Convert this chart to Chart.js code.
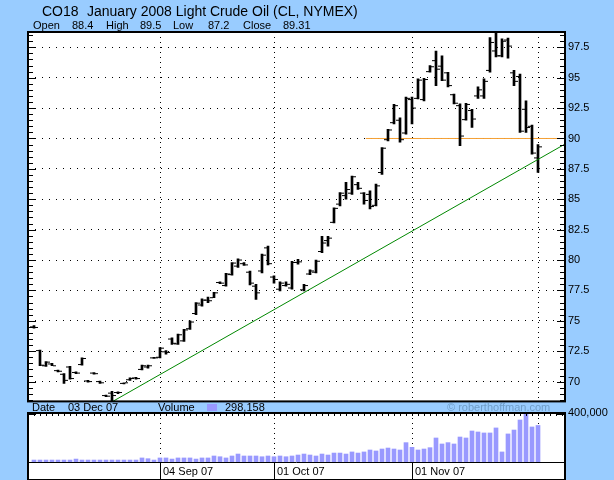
<!DOCTYPE html>
<html>
<head>
<meta charset="utf-8">
<script src="https://cdn.jsdelivr.net/npm/chart.js@4.4.1/dist/chart.umd.min.js"></script>
<style>
  body { margin: 0; background: #99ccff; font-family: "Liberation Sans", Arial, sans-serif; }
  #lienzo { position: relative; width: 614px; height: 480px; overflow: hidden; }
  #lienzo canvas { position: absolute; left: 0; }
  .t { position: absolute; white-space: nowrap; color: #000; font-size: 11px; line-height: 11px; z-index: 2; }
</style>
</head>
<body>
<div id="lienzo">
  <canvas id="precio-grafica" width="614" height="411" style="top:0"></canvas>
  <canvas id="volumen-grafica" width="614" height="80" style="top:400px"></canvas>

  <div class="t" style="left:42px;top:4px;font-size:14px;line-height:14px">CO18</div>
  <div class="t" style="left:87px;top:4px;font-size:14px;line-height:14px">January 2008 Light Crude Oil (CL, NYMEX)</div>

  <div class="t" style="left:33px;top:20px">Open</div>
  <div class="t" style="left:72px;top:20px">88.4</div>
  <div class="t" style="left:106px;top:20px">High</div>
  <div class="t" style="left:140px;top:20px">89.5</div>
  <div class="t" style="left:173px;top:20px">Low</div>
  <div class="t" style="left:208px;top:20px">87.2</div>
  <div class="t" style="left:243px;top:20px">Close</div>
  <div class="t" style="left:283px;top:20px">89.31</div>

  <div class="t" style="left:32px;top:402px">Date</div>
  <div class="t" style="left:68px;top:402px">03 Dec 07</div>
  <div class="t" style="left:158px;top:402px">Volume</div>
  <div class="t" style="left:207px;top:404px;width:10px;height:7px;background:#9999ff"></div>
  <div class="t" style="left:225px;top:402px">298,158</div>
  <div class="t" style="left:447px;top:402px;color:#6f9dc8">© roberthoffman.com</div>
</div>

<script>
(function(){

    // datos diarios, indice 1 = 03 Aug 07 ... 85 = 03 Dec 07
    const primerDia = 1;
    const apertura = [74.5, 72.55, 71.3, 71.45, 70.9, 70.6, 71.2, 70.75, 71.4, 70.05,
        70.7, 70.0, 68.85, 69.05, 69.1, 69.85, 70.15, 70.3, 71.0, 71.2,
        71.95, 72.0, 72.45, 73.5, 73.1, 73.35, 74.35, 75.6, 76.3, 76.7,
        76.9, 78.15, 77.9, 78.8, 79.5, 79.7, 79.0, 77.85, 79.1, 81.0,
        78.6, 77.6, 77.9, 77.7, 79.8, 77.55, 78.85, 79.0, 80.7, 81.6,
        83.1, 84.6, 85.3, 85.5, 86.2, 85.5, 85.4, 84.5, 87.2, 89.9,
        91.3, 91.5, 90.45, 93.2, 93.3, 93.2, 95.5, 96.4, 95.95, 95.4,
        93.6, 92.7, 91.55, 92.3, 93.5, 93.5, 95.6, 97.2, 96.8, 98.1,
        95.4, 95.1, 92.4, 91.0, 88.4];
    const maximo = [74.6, 72.6, 71.65, 71.5, 70.95, 70.65, 71.25, 70.8, 71.95, 70.1,
        70.75, 70.05, 68.9, 69.2, 69.15, 69.9, 70.3, 70.35, 71.35, 71.35,
        72.0, 72.8, 72.55, 73.6, 73.9, 74.3, 75.0, 76.5, 76.8, 76.95,
        77.35, 78.2, 78.9, 79.8, 80.1, 79.8, 79.1, 78.0, 80.5, 81.15,
        78.7, 78.2, 78.2, 79.9, 80.05, 78.0, 79.2, 80.0, 81.95, 81.95,
        84.3, 85.55, 86.4, 86.9, 86.4, 85.55, 85.7, 86.25, 89.25, 90.75,
        92.8, 91.7, 93.4, 93.4, 94.9, 94.95, 96.0, 97.2, 96.8, 95.45,
        93.65, 92.85, 92.9, 92.4, 94.25, 94.9, 98.3, 98.9, 98.2, 98.25,
        95.6, 95.3, 93.1, 91.1, 89.5];
    const minimo = [74.4, 71.3, 71.25, 71.3, 70.8, 69.85, 70.2, 70.65, 71.35, 69.95,
        70.6, 69.85, 68.75, 68.4, 69.0, 69.8, 70.1, 70.2, 70.95, 71.1,
        71.9, 71.95, 72.25, 73.05, 73.05, 73.3, 74.3, 75.5, 76.2, 76.5,
        76.9, 78.05, 77.85, 78.75, 79.4, 79.55, 77.95, 76.75, 78.95, 79.6,
        78.1, 77.45, 77.85, 77.6, 79.65, 77.45, 78.8, 78.95, 80.6, 81.15,
        83.05, 84.45, 85.0, 85.4, 85.8, 84.6, 84.2, 84.45, 87.05, 89.8,
        91.2, 89.7, 90.35, 91.2, 93.25, 93.1, 95.45, 94.35, 94.75, 94.25,
        92.85, 89.4, 91.5, 90.9, 93.3, 93.3, 95.45, 96.7, 96.7, 96.6,
        94.35, 90.5, 90.5, 88.7, 87.2];
    const cierre = [74.45, 71.35, 71.6, 71.3, 70.85, 70.1, 70.25, 70.7, 71.9, 70.0,
        70.65, 69.9, 68.8, 68.85, 69.1, 69.9, 70.25, 70.25, 71.3, 71.3,
        71.95, 72.75, 72.4, 73.15, 73.85, 74.25, 74.9, 76.45, 76.7, 76.65,
        77.3, 78.1, 78.85, 79.75, 80.0, 79.6, 78.1, 77.3, 80.4, 79.7,
        78.4, 78.1, 78.0, 79.8, 79.85, 77.9, 79.1, 79.9, 81.4, 81.8,
        84.25, 85.5, 85.8, 86.85, 85.9, 84.9, 84.4, 86.1, 89.2, 90.7,
        92.7, 89.9, 93.3, 92.5, 94.8, 94.85, 95.9, 95.7, 94.8, 94.35,
        92.9, 90.2, 92.8, 91.6, 94.0, 94.7, 97.9, 96.8, 98.0, 97.6,
        94.7, 90.6, 90.9, 88.8, 89.31];
    const volumen = [16000, 16000, 16000, 16000, 16000, 16000, 16000, 24000, 16000, 16000,
        16000, 16000, 16000, 16000, 16000, 16000, 16000, 16000, 33000, 27000,
        16000, 33000, 33000, 24000, 33000, 33000, 33000, 24000, 33000, 33000,
        49000, 43000, 33000, 49000, 65000, 49000, 49000, 49000, 43000, 49000,
        43000, 49000, 43000, 49000, 57000, 65000, 57000, 49000, 65000, 57000,
        73000, 73000, 65000, 82000, 73000, 82000, 98000, 90000, 106000, 114000,
        106000, 98000, 158000, 120000, 98000, 106000, 117000, 196000, 147000, 158000,
        147000, 204000, 196000, 253000, 245000, 237000, 237000, 278000, 82000, 229000,
        261000, 343000, 400000, 286000, 298158];

    const lineasFecha = [22, 41, 64, 85];
    const etiquetasFecha = ['04 Sep 07', '01 Oct 07', '01 Nov 07', ''];
    const ticksPrecio = [70, 72.5, 75, 77.5, 80, 82.5, 85, 87.5, 90, 92.5, 95, 97.5];
    const tendencia = [{x: 14.17, y: 68.38}, {x: 89.5, y: 89.54}];
    const soporte = [{x: 56.3, y: 90}, {x: 88.2, y: 90}];

    const dias = apertura.map((v, k) => primerDia + k);

    Chart.defaults.font.family = '"Liberation Sans", Arial, sans-serif';
    Chart.defaults.font.size = 11;
    Chart.defaults.color = '#000';
    Chart.defaults.animation = false;

    const marco = {
        id: 'marco',
        beforeDraw(chart, args, opts) {
            const {ctx, chartArea: a} = chart;
            ctx.save();
            ctx.fillStyle = '#fff';
            ctx.fillRect(a.left, a.top, a.right - a.left, a.bottom - a.top + (opts.extra || 0));
            ctx.restore();
        },
        afterDraw(chart, args, opts) {
            const {ctx, chartArea: a} = chart;
            const extra = opts.extra || 0;
            ctx.save();
            ctx.strokeStyle = '#000';
            ctx.lineWidth = 1;
            ctx.beginPath();
            if (opts.precio) {
                const y = chart.scales.y;
                for (let v = 68.5; v <= 98.5; v += 0.5) {
                    const py = Math.round(y.getPixelForValue(v)) + 0.5;
                    const largo = (v % 2.5 === 0) ? 8 : 5;
                    ctx.moveTo(a.left, py); ctx.lineTo(a.left + largo, py);
                    ctx.moveTo(a.right - largo, py); ctx.lineTo(a.right, py);
                }
            } else {
                const x = chart.scales.x;
                for (let d = 1; d <= 89; d++) {
                    const px = Math.round(x.getPixelForValue(d)) + 0.5;
                    ctx.moveTo(px, a.top); ctx.lineTo(px, a.top + 3);
                }
            }
            ctx.stroke();
            ctx.lineWidth = 2;
            if (!opts.precio) {
                ctx.beginPath();
                ctx.moveTo(a.left, a.top + 1); ctx.lineTo(a.left + 8, a.top + 1);
                ctx.moveTo(a.right - 8, a.top + 1); ctx.lineTo(a.right, a.top + 1);
                ctx.stroke();
                ctx.lineWidth = 1;
                ctx.beginPath();
                ctx.moveTo(a.left, a.bottom + 0.5); ctx.lineTo(a.right, a.bottom + 0.5);
                ctx.stroke();
            }
            ctx.lineWidth = 2;
            ctx.strokeRect(a.left, a.top, a.right - a.left, a.bottom - a.top + extra);
            ctx.restore();
        }
    };

    const ejeX = {
        type: 'linear',
        min: 0,
        max: 89.5,
        offset: false,
        afterBuildTicks: (scale) => { scale.ticks = lineasFecha.map(v => ({value: v})); }
    };

    new Chart(document.getElementById('precio-grafica'), {
        type: 'bar',
        data: {
            datasets: [{
                type: 'bar',
                data: dias.map((d, k) => ({x: d, y: [minimo[k], maximo[k]]})),
                backgroundColor: '#000',
                barThickness: 2,
                borderWidth: 0,
                order: 2
            }, {
                type: 'scatter',
                data: dias.map((d, k) => ({x: d - 2.5 / 6, y: apertura[k]})),
                pointStyle: 'line',
                radius: 1.5,
                borderColor: '#000',
                borderWidth: 1,
                order: 1
            }, {
                type: 'scatter',
                data: dias.map((d, k) => ({x: d + 2.5 / 6, y: cierre[k]})),
                pointStyle: 'line',
                radius: 1.5,
                borderColor: '#000',
                borderWidth: 1,
                order: 1
            }, {
                type: 'line',
                data: soporte,
                borderColor: '#f5a033',
                borderWidth: 1,
                pointRadius: 0,
                order: 3
            }, {
                type: 'line',
                data: tendencia,
                borderColor: '#008800',
                borderWidth: 1,
                pointRadius: 0,
                order: 0
            }]
        },
        options: {
            responsive: false,
            layout: { padding: { left: 28, top: 32, right: 0, bottom: 0 } },
            plugins: {
                legend: { display: false },
                tooltip: { enabled: false },
                marco: { precio: true }
            },
            scales: {
                x: Object.assign({}, ejeX, {
                    position: 'bottom',
                    grid: { color: '#000', drawTicks: false, offset: false, borderDash: [1, 4] },
                    border: { display: false, dash: [1, 4] },
                    ticks: { display: false },
                    afterFit: (scale) => { scale.height = 8; }
                }),
                y: {
                    position: 'right',
                    min: 68.37,
                    max: 98.76,
                    afterBuildTicks: (scale) => { scale.ticks = ticksPrecio.map(v => ({value: v})); },
                    grid: { color: '#000', drawTicks: false, borderDash: [1, 6] },
                    border: { display: false, dash: [1, 6] },
                    ticks: { padding: 3, callback: v => String(v) },
                    afterFit: (scale) => { scale.width = 49; }
                }
            }
        },
        plugins: [marco]
    });

    new Chart(document.getElementById('volumen-grafica'), {
        type: 'bar',
        data: {
            datasets: [{
                data: dias.map((d, k) => ({x: d, y: volumen[k]})),
                backgroundColor: '#9999ff',
                barThickness: 4,
                borderWidth: 0
            }]
        },
        options: {
            responsive: false,
            layout: { padding: { left: 28, top: 13, right: 0, bottom: 0 } },
            plugins: {
                legend: { display: false },
                tooltip: { enabled: false },
                marco: { precio: false, extra: 18 }
            },
            scales: {
                x: Object.assign({}, ejeX, {
                    position: 'bottom',
                    grid: {
                        color: '#000',
                        offset: false,
                        borderDash: [1, 4],
                        tickLength: 18,
                        tickBorderDash: [],
                        tickColor: (ctx) => (ctx.tick && ctx.tick.value === 85) ? 'rgba(0,0,0,0)' : '#000'
                    },
                    border: { display: false, dash: [1, 4] },
                    ticks: {
                        autoSkip: false,
                        maxRotation: 0,
                        align: 'start',
                        labelOffset: 3,
                        padding: -15,
                        callback: (v, idx) => etiquetasFecha[idx]
                    },
                    afterFit: (scale) => { scale.height = 18; }
                }),
                y: {
                    position: 'right',
                    min: 0,
                    max: 400000,
                    afterBuildTicks: (scale) => { scale.ticks = [{value: 400000}]; },
                    grid: { drawOnChartArea: false, drawTicks: false },
                    border: { display: false },
                    ticks: { padding: 3, callback: v => v.toLocaleString('en-US') },
                    afterFit: (scale) => { scale.width = 49; }
                }
            }
        },
        plugins: [marco]
    });

})();
</script>
</body>
</html>
